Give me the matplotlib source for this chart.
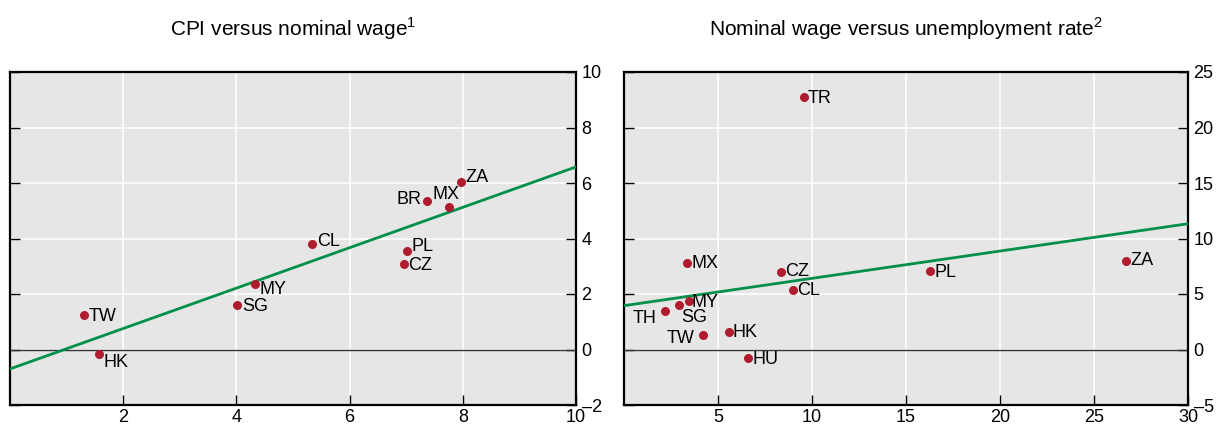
import matplotlib
matplotlib.use("Agg")
import matplotlib.pyplot as plt
import numpy as np

plt.rcParams['font.family'] = ['Liberation Sans', 'DejaVu Sans']
plt.rcParams['mathtext.fontset'] = 'custom'
plt.rcParams['mathtext.rm'] = 'Liberation Sans'

# left panel: CPI versus nominal wage
l_codes = ['TW', 'HK', 'SG', 'MY', 'CL', 'PL', 'CZ', 'BR', 'MX', 'ZA']
l_wage = [1.31, 1.58, 4.01, 4.33, 5.33, 7.02, 6.96, 7.37, 7.76, 7.97]
l_cpi = [1.25, -0.16, 1.61, 2.35, 3.80, 3.55, 3.07, 5.35, 5.13, 6.04]
l_fit = [-0.70, 6.58]   # fitted line at x=0 and x=10

# right panel: nominal wage versus unemployment rate
r_codes = ['TR', 'MX', 'CZ', 'CL', 'PL', 'ZA', 'MY', 'SG', 'TH', 'TW', 'HK', 'HU']
r_unemp = [9.57, 3.37, 8.33, 8.99, 16.28, 26.71, 3.45, 2.91, 2.19, 4.21, 5.56, 6.59]
r_wage = [22.74, 7.77, 6.99, 5.36, 7.05, 7.98, 4.34, 4.04, 3.46, 1.33, 1.57, -0.78]
r_fit = [3.95, 11.33]   # fitted line at x=0 and x=30

# label offsets in points, and alignment
l_off = {'TW': (3, -1, 'left'), 'HK': (3, -6, 'left'), 'SG': (4, -1, 'left'),
         'MY': (3, -4, 'left'), 'CL': (4, 2, 'left'), 'PL': (3, 3, 'left'),
         'CZ': (3, -1, 'left'), 'BR': (-4, 1, 'right'), 'MX': (-2, 9, 'center'),
         'ZA': (3, 3, 'left')}
r_off = {'TR': (3, -1, 'left'), 'MX': (3, 0, 'left'), 'CZ': (3, 0, 'left'),
         'CL': (3, 0, 'left'), 'PL': (3, -1, 'left'), 'ZA': (3, 0, 'left'),
         'MY': (2, -1, 'left'), 'SG': (2, -9, 'left'), 'TH': (-6, -5, 'right'),
         'TW': (-6, -3, 'right'), 'HK': (3, 0, 'left'), 'HU': (3, -1, 'left')}

red = '#b01c2e'
green = '#00904a'

fig = plt.figure(figsize=(12.21, 4.33), dpi=100)
ax1 = fig.add_axes([10/1221, 28/433, 566/1221, 333/433])
ax2 = fig.add_axes([624/1221, 28/433, 564/1221, 333/433])


def style(ax, xlim, ylim, xt, yt):
    ax.set_facecolor('#e6e6e6')
    ax.set_xlim(xlim)
    ax.set_ylim(ylim)
    ax.set_xticks(xt)
    ax.set_yticks(yt)
    ax.set_yticklabels([str(v).replace('-', '\u2013') for v in yt])
    ax.grid(True, color='white', linewidth=1.2)
    ax.set_axisbelow(True)
    ax.yaxis.tick_right()
    ax.tick_params(axis='y', which='both', left=True, right=True, direction='in',
                   length=7, width=1, labelsize=13, pad=4)
    ax.tick_params(axis='x', direction='in', length=7, width=1, labelsize=13, pad=3)
    for s in ax.spines.values():
        s.set_linewidth(1.6)
    ax.axhline(0, color='#333333', linewidth=1, zorder=2)


def labels(ax, codes, xs, ys, offs):
    for c, x, y in zip(codes, xs, ys):
        dx, dy, ha = offs[c]
        ax.annotate(c, (x, y), xytext=(dx, dy), textcoords='offset points', fontsize=13,
                    ha=ha, va='center', zorder=5)


style(ax1, (0, 10), (-2, 10), [2, 4, 6, 8, 10], [-2, 0, 2, 4, 6, 8, 10])
ax1.plot([0, 10], l_fit, color=green, linewidth=2, zorder=3)
ax1.scatter(l_wage, l_cpi, s=30, color=red, zorder=4)
labels(ax1, l_codes, l_wage, l_cpi, l_off)
ax1.set_title('CPI versus nominal wage$^1$', fontsize=15, pad=26)

style(ax2, (0, 30), (-5, 25), [5, 10, 15, 20, 25, 30], [-5, 0, 5, 10, 15, 20, 25])
ax2.plot([0, 30], r_fit, color=green, linewidth=2, zorder=3)
ax2.scatter(r_unemp, r_wage, s=30, color=red, zorder=4)
labels(ax2, r_codes, r_unemp, r_wage, r_off)
ax2.set_title('Nominal wage versus unemployment rate$^2$', fontsize=15, pad=26)

fig.savefig('out.png', dpi=100)
